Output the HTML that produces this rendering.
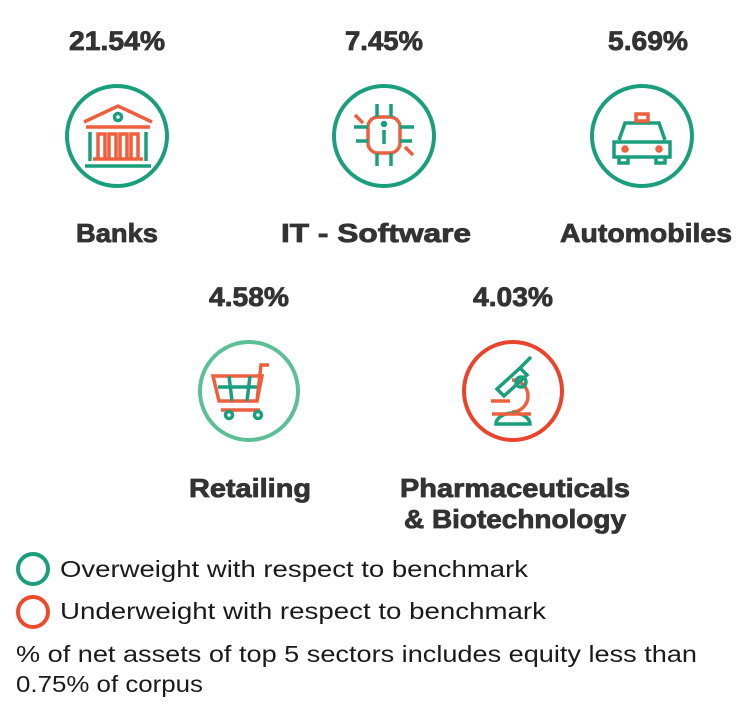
<!DOCTYPE html>
<html><head><meta charset="utf-8"><style>
html,body{margin:0;padding:0;background:#fff;width:748px;height:712px;overflow:hidden}
svg{display:block}
.p{font:bold 27px "Liberation Sans",sans-serif;fill:#333;stroke:#333;stroke-width:0.8;text-anchor:middle}
.l{font:bold 26px "Liberation Sans",sans-serif;fill:#333;stroke:#333;stroke-width:0.8;text-anchor:middle}
.t{font:23px "Liberation Sans",sans-serif;fill:#1a1a1a}
</style></head><body>
<svg width="748" height="712" viewBox="0 0 748 712" xmlns="http://www.w3.org/2000/svg">
<g fill="none" stroke-width="4">
<circle cx="117" cy="136" r="50" stroke="#1a9e7d"/>
<circle cx="384" cy="136" r="50" stroke="#1a9e7d"/>
<circle cx="642" cy="136" r="50" stroke="#1a9e7d"/>
<circle cx="249" cy="391" r="49" stroke="#5cbf95"/>
<circle cx="513" cy="391" r="49" stroke="#e8452c"/>
</g>
<!-- bank -->
<g stroke-width="3.5" fill="none">
<path d="M84 122 L118 106 L152 122" stroke="#ee5f3e"/>
<circle cx="118" cy="117" r="3.5" stroke="#1a9e7d"/>
<line x1="86" y1="127" x2="150" y2="127" stroke="#ee5f3e"/>
<path d="M90 161 V132 M146 161 V132" stroke="#1a9e7d"/>
<path d="M98 158 V134 h7 v24 M109 158 V134 h7 v24 M120 158 V134 h7 v24 M131 158 V134 h7 v24" stroke="#ee5f3e"/>
<line x1="93" y1="159" x2="143" y2="159" stroke="#ee5f3e"/>
<line x1="85" y1="166" x2="151" y2="166" stroke="#1a9e7d"/>
</g>
<!-- chip -->
<g stroke-width="3.5" fill="none">
<rect x="368" y="117" width="32" height="36" rx="10" stroke="#ee5f3e"/>
<line x1="384" y1="130" x2="384" y2="144" stroke="#1a9e7d"/>
<circle cx="384" cy="124" r="1.5" fill="#1a9e7d" stroke="#1a9e7d"/>
<path d="M377 117 V104 M391 117 V104 M368 127 H354 M368 141 H356 M400 127 H414 M400 141 H412 M377 153 V166 M391 153 V166" stroke="#1a9e7d"/>
<path d="M363 123 l-8 -8 M405 147 l8 8" stroke="#ee5f3e"/>
</g>
<!-- car -->
<g stroke-width="3.5" fill="none" stroke="#1a9e7d">
<path d="M619 140 l6 -17 h34 l6 17 M614 142 h56 v15 h-56 z M619 157 v6 h9 v-6 M656 157 v6 h9 v-6"/>
<rect x="636" y="114" width="12" height="7" stroke="#ee5f3e"/>
<circle cx="625" cy="149" r="2" stroke="#ee5f3e"/><circle cx="659" cy="149" r="2" stroke="#ee5f3e"/>
</g>
<!-- cart -->
<g stroke-width="3.5" fill="none">
<path d="M213 376 h49 l-5 25 h-38 z" stroke="#ee5f3e"/>
<path d="M218 387 h40 M229 376 l3 25 M250 376 l-3 25" stroke="#1a9e7d"/>
<path d="M257 401 l4 -36 h8 M221 410 h39" stroke="#ee5f3e"/>
<circle cx="229" cy="415" r="3.5" stroke="#1a9e7d"/><circle cx="258" cy="415" r="3.5" stroke="#1a9e7d"/>
</g>
<!-- microscope -->
<g stroke-width="3.5" fill="none">
<path d="M491 401 h19 M512 380 a16 16 0 1 1 0 32" stroke="#ee5f3e"/>
<path d="M497 389 l23 -21 l7 7 l-23 21 z M520 368 l11 -11" stroke="#1a9e7d"/>
<circle cx="521" cy="382" r="5" stroke="#1a9e7d"/>
<path d="M496 424 a17 11 0 0 1 34 0 z" stroke="#1a9e7d"/>
<line x1="492" y1="414" x2="531" y2="414" stroke="#ee5f3e"/>
</g>
<text class="p" x="117" y="50" textLength="96" lengthAdjust="spacingAndGlyphs">21.54%</text>
<text class="p" x="384" y="50" textLength="78" lengthAdjust="spacingAndGlyphs">7.45%</text>
<text class="p" x="648" y="50" textLength="80" lengthAdjust="spacingAndGlyphs">5.69%</text>
<text class="l" x="117" y="242" textLength="82" lengthAdjust="spacingAndGlyphs">Banks</text>
<text class="l" x="376" y="242" textLength="190" lengthAdjust="spacingAndGlyphs">IT - Software</text>
<text class="l" x="646" y="242" textLength="172" lengthAdjust="spacingAndGlyphs">Automobiles</text>
<text class="p" x="249" y="306" textLength="80" lengthAdjust="spacingAndGlyphs">4.58%</text>
<text class="p" x="513" y="306" textLength="80" lengthAdjust="spacingAndGlyphs">4.03%</text>
<text class="l" x="250" y="497" textLength="122" lengthAdjust="spacingAndGlyphs">Retailing</text>
<text class="l" x="515" y="497" textLength="230" lengthAdjust="spacingAndGlyphs">Pharmaceuticals</text>
<text class="l" x="515" y="528" textLength="222" lengthAdjust="spacingAndGlyphs">&amp; Biotechnology</text>
<circle cx="33" cy="569" r="15" fill="none" stroke="#1a9e7d" stroke-width="4"/>
<circle cx="33" cy="612" r="15" fill="none" stroke="#ee4a2c" stroke-width="4"/>
<text class="t" x="60" y="577" textLength="468" lengthAdjust="spacingAndGlyphs">Overweight with respect to benchmark</text>
<text class="t" x="60" y="619" textLength="486" lengthAdjust="spacingAndGlyphs">Underweight with respect to benchmark</text>
<text class="t" x="16" y="662" textLength="681" lengthAdjust="spacingAndGlyphs">% of net assets of top 5 sectors includes equity less than</text>
<text class="t" x="16" y="692" textLength="187" lengthAdjust="spacingAndGlyphs">0.75% of corpus</text>
</svg>
</body></html>
